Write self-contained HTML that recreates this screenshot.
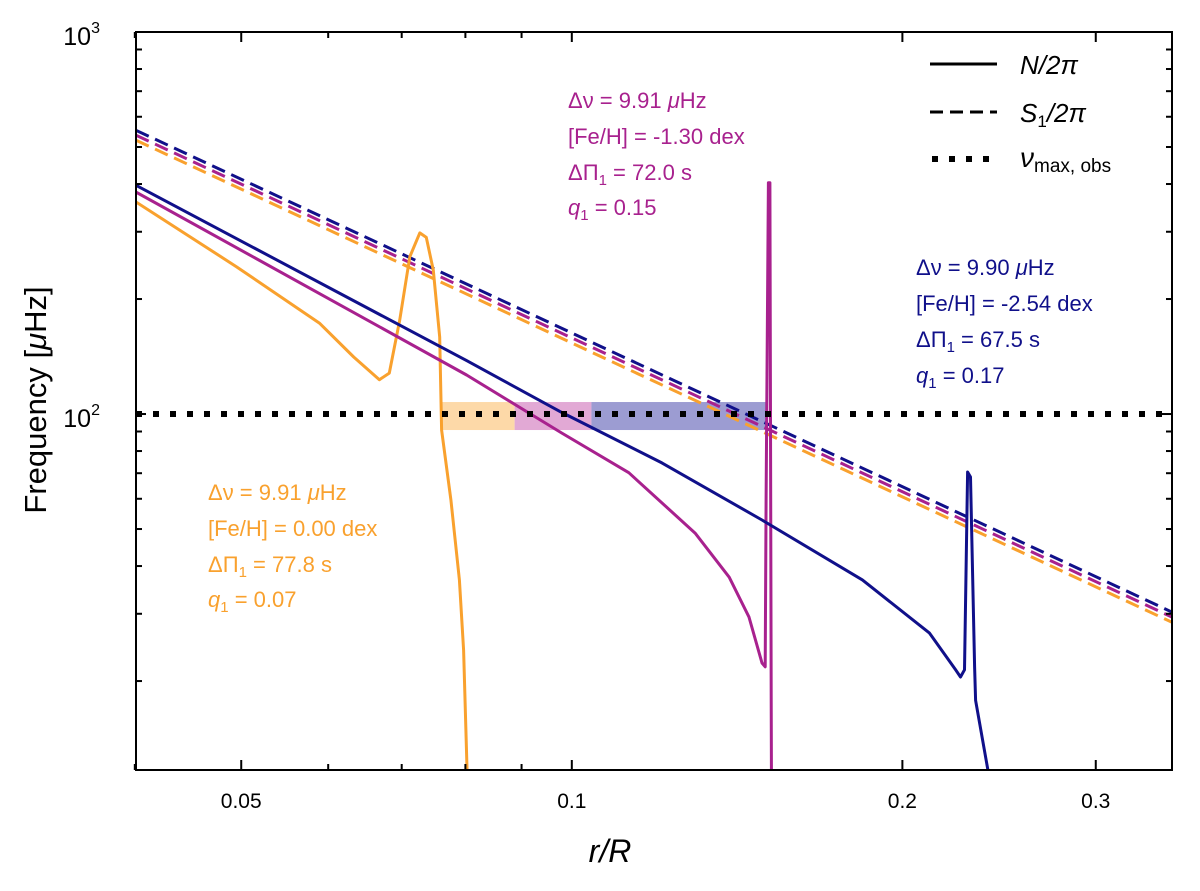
<!DOCTYPE html>
<html><head><meta charset="utf-8"><style>
body{margin:0;background:#fff;}
svg text{font-family:"Liberation Sans",sans-serif;}
#chart{position:absolute;left:0;top:0}
</style></head><body>
<svg id="chart" width="1200" height="891" xmlns="http://www.w3.org/2000/svg">
<defs><clipPath id="clip"><rect x="136" y="32" width="1036" height="738"/></clipPath></defs>
<g id="plot" clip-path="url(#clip)"></g>
<g id="axes"></g>
</svg>
<script>
const blueR=[0.0401,0.0802,0.0979,0.1208,0.1490,0.1839,0.2117,0.2236,0.2259,0.2278,0.2293,0.2307,0.2327,0.2332,0.2402];
const blueF=[397,138,101,74.5,52.8,36.8,26.7,21.4,20.5,21.4,70.5,68.4,21.8,17.8,11];
const purpleR=[0.0401,0.0802,0.0979,0.1127,0.1295,0.1391,0.1450,0.1490,0.1500,0.1503,0.1510,0.1515,0.1519,0.1520];
const purpleF=[381,126.5,89.2,70.2,48.8,37.4,29.4,22.3,21.8,60,403,403,17.8,10];
const orangeR=[0.0401,0.0495,0.0589,0.0633,0.0668,0.0682,0.0697,0.0712,0.0727,0.0737,0.0748,0.0758,0.0761,0.0776,0.0790,0.0797,0.0804];
const orangeF=[359,243,173,141,123,128,176,258,298,290,238,159,90.8,59.6,36.8,24.1,10];
const s1R=[0.0401,0.352];
const s1Blue=[553,30.3];
const s1Purple=[537,29.4];
const s1Orange=[521,28.5];
const numaxObs=100;
const bandLow=[90.8,90.8,90.8];
const bandHigh=[107.5,107.5,107.5];
const bandStart=[0.0761,0.0887,0.1042];
const bandEnd=[0.0887,0.1042,0.1505];
const xTickVals=[0.05,0.1,0.2,0.3];
const xTickLabels=["0.05","0.1","0.2","0.3"];
const xMinor=[0.04,0.06,0.07,0.08,0.09];

const L=136,R=1172,T=32,B=770;
const xmin=Math.log10(0.0401),xmax=Math.log10(0.352),ymin=Math.log10(11.7),ymax=3;
const X=v=>L+(Math.log10(v)-xmin)/(xmax-xmin)*(R-L);
const Y=v=>B-(Math.log10(v)-ymin)/(ymax-ymin)*(B-T);
const NS="http://www.w3.org/2000/svg";
const plot=document.getElementById('plot'),axes=document.getElementById('axes');
function mk(tag,at,parent){const e=document.createElementNS(NS,tag);for(const k in at)e.setAttribute(k,at[k]);parent.appendChild(e);return e;}

const colors={blue:"#10108a",purple:"#a8218e",orange:"#f9a12e"};
const bandCols=["#fdd9a8","#e2a9d5","#9c9cd2"];
const bandNames=['band-orange','band-purple','band-blue'];
for(let i=0;i<3;i++){
 const r=mk('rect',{x:X(bandStart[i]),y:Y(bandHigh[i]),width:X(bandEnd[i])-X(bandStart[i]),height:Y(bandLow[i])-Y(bandHigh[i]),fill:bandCols[i]},plot);
 
 
}
function line(rs,fs,col,w,dash,name){
 const pts=rs.map((r,i)=>X(r).toFixed(1)+','+Y(fs[i]).toFixed(1)).join(' ');
 const p=mk('polyline',{points:pts,fill:'none',stroke:col,'stroke-width':w,'stroke-linejoin':'round'},plot);
 if(dash)p.setAttribute('stroke-dasharray',dash);
 
 
}
line(s1R,s1Orange,colors.orange,3,"14,7",'s1-orange');
line(s1R,s1Purple,colors.purple,3,"14,7",'s1-purple');
line(s1R,s1Blue,colors.blue,3,"14,7",'s1-blue');
line(orangeR,orangeF,colors.orange,3,null,'n-orange');
line(purpleR,purpleF,colors.purple,3,null,'n-purple');
line(blueR,blueF,colors.blue,3,null,'n-blue');
const dl=mk('line',{x1:L,x2:R,y1:Y(numaxObs),y2:Y(numaxObs),stroke:'#000','stroke-width':6,'stroke-dasharray':'6,11'},plot);



const fr=mk('rect',{x:L,y:T,width:R-L,height:B-T,fill:'none',stroke:'#000','stroke-width':2},axes);


function tk(x1,y1,x2,y2){mk('line',{x1,y1,x2,y2,stroke:'#000','stroke-width':2},axes);}
xTickVals.forEach((v,i)=>{const x=X(v);tk(x,B,x,B-10);tk(x,T,x,T+10);
 const t=mk('text',{x:x,y:B+38,'text-anchor':'middle','font-size':21},axes);t.textContent=xTickLabels[i];
 
 });
xMinor.forEach(v=>{const x=X(v);tk(x,B,x,B-6);tk(x,T,x,T+6);});
for(let d=10;d<=100;d*=10)for(let k=2;k<=9;k++){const v=d*k;if(v<11.7||v>1000)continue;const y=Y(v);tk(L,y,L+6,y);tk(R,y,R-6,y);}
[100,1000].forEach(v=>{const y=Y(v);tk(L,y,L+10,y);tk(R,y,R-10,y);});
</script>
<svg width="1200" height="891" style="position:absolute;left:0;top:0" xmlns="http://www.w3.org/2000/svg">
<g font-family="Liberation Sans, sans-serif">
<text x="100" y="427" font-size="25" text-anchor="end">10<tspan dy="-12" font-size="16">2</tspan></text>
<text x="100" y="45" font-size="25" text-anchor="end">10<tspan dy="-12" font-size="16">3</tspan></text>
<text transform="translate(46,400) rotate(-90)" font-size="31" text-anchor="middle">Frequency [<tspan font-style="italic">μ</tspan>Hz]</text>
<text x="610" y="862" font-size="32" font-style="italic" text-anchor="middle">r/R</text>
<g>
<line x1="930" y1="64" x2="997" y2="64" stroke="#000" stroke-width="3"/>
<text x="1020" y="74" font-size="26" font-style="italic">N/2π</text>
<line x1="930" y1="112" x2="997" y2="112" stroke="#000" stroke-width="3" stroke-dasharray="13,7"/>
<text x="1020" y="122" font-size="26"><tspan font-style="italic">S</tspan><tspan font-size="17" dy="5">1</tspan><tspan dy="-5" font-style="italic">/2π</tspan></text>
<line x1="932" y1="159" x2="997" y2="159" stroke="#000" stroke-width="6" stroke-dasharray="6,11"/>
<text x="1020" y="167" font-size="28" font-style="italic">ν<tspan font-style="normal" font-size="19" dy="5">max, obs</tspan></text>
</g>
<g fill="#a8218e" font-size="22">
<text x="568" y="108">Δν = 9.91 <tspan font-style="italic">μ</tspan>Hz</text>
<text x="568" y="144">[Fe/H] = -1.30 dex</text>
<text x="568" y="180">ΔΠ<tspan font-size="15" dy="5">1</tspan><tspan dy="-5"> = 72.0 s</tspan></text>
<text x="568" y="215"><tspan font-style="italic">q</tspan><tspan font-size="15" dy="5">1</tspan><tspan dy="-5"> = 0.15</tspan></text>
</g>
<g fill="#10108a" font-size="22">
<text x="916" y="275">Δν = 9.90 <tspan font-style="italic">μ</tspan>Hz</text>
<text x="916" y="311">[Fe/H] = -2.54 dex</text>
<text x="916" y="347">ΔΠ<tspan font-size="15" dy="5">1</tspan><tspan dy="-5"> = 67.5 s</tspan></text>
<text x="916" y="383"><tspan font-style="italic">q</tspan><tspan font-size="15" dy="5">1</tspan><tspan dy="-5"> = 0.17</tspan></text>
</g>
<g fill="#f9a12e" font-size="22">
<text x="208" y="500">Δν = 9.91 <tspan font-style="italic">μ</tspan>Hz</text>
<text x="208" y="536">[Fe/H] = 0.00 dex</text>
<text x="208" y="572">ΔΠ<tspan font-size="15" dy="5">1</tspan><tspan dy="-5"> = 77.8 s</tspan></text>
<text x="208" y="607"><tspan font-style="italic">q</tspan><tspan font-size="15" dy="5">1</tspan><tspan dy="-5"> = 0.07</tspan></text>
</g>
</g>
</svg>
</body></html>
